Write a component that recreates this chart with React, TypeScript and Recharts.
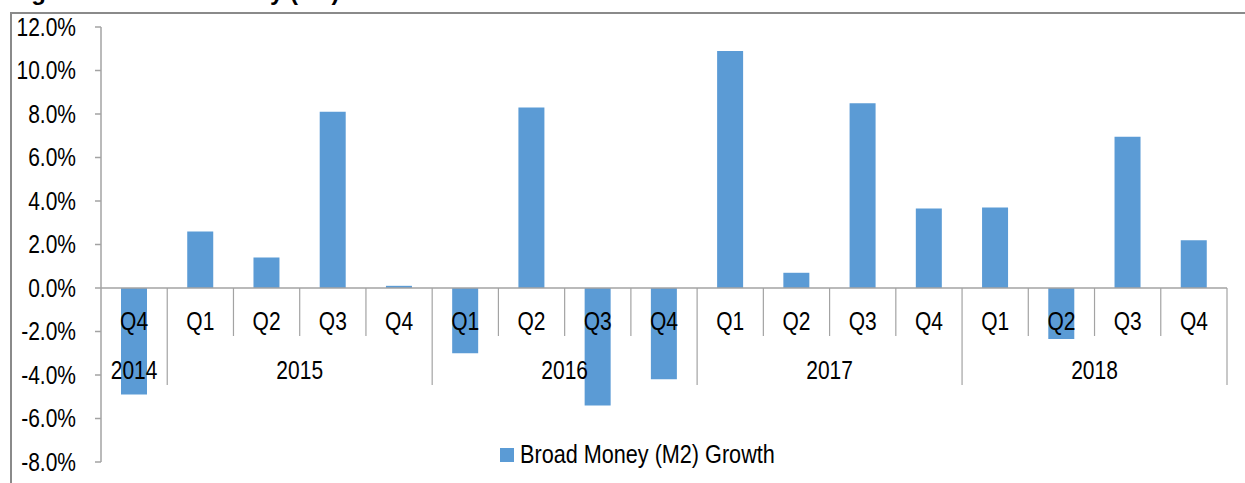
import { BarChart, Bar, XAxis, YAxis, ReferenceLine, Legend } from 'recharts'

const quarters = ['Q4', 'Q1', 'Q2', 'Q3', 'Q4', 'Q1', 'Q2', 'Q3', 'Q4', 'Q1', 'Q2', 'Q3', 'Q4', 'Q1', 'Q2', 'Q3', 'Q4']
const years = ['2014', '2015', '2015', '2015', '2015', '2016', '2016', '2016', '2016', '2017', '2017', '2017', '2017', '2018', '2018', '2018', '2018']
const m2Growth = [-4.9, 2.6, 1.4, 8.1, 0.1, -3.0, 8.3, -5.4, -4.2, 10.9, 0.7, 8.5, 3.65, 3.7, -2.35, 6.95, 2.2]
const yTicks = [-8, -6, -4, -2, 0, 2, 4, 6, 8, 10, 12]

const FONT = "'Liberation Sans', Arial, sans-serif"
const NARROW = 0.84
const AXIS_GRAY = '#a3a3a3'
const BAR_BLUE = '#5B9BD5'

const W = 1245
const H = 483
const M = { top: 27, right: 18, bottom: 20, left: 0 }
const Y_AXIS_W = 101
const X_AXIS_H = 1
const plotTop = M.top
const plotH = H - M.top - M.bottom - X_AXIS_H
const plotW = W - M.left - M.right - Y_AXIS_W
const bandW = plotW / quarters.length
const yMin = yTicks[0]
const yMax = yTicks[yTicks.length - 1]
const zeroY = plotTop + (plotH * yMax) / (yMax - yMin)

const data = quarters.map((q, i) => ({ key: `${years[i]}-${q}`, quarter: q, year: years[i], value: m2Growth[i] }))

// condensed text: the source uses Arial Narrow, which isn't installed here
function NarrowText({ x, y, anchor, dy, children }: any) {
  return (
    <text
      transform={`translate(${x},${y}) scale(${NARROW},1)`}
      textAnchor={anchor}
      dy={dy}
      fill="#000"
      fontSize={25}
      fontFamily={FONT}
    >
      {children}
    </text>
  )
}

function YTick(props: any) {
  const { x, y, payload } = props
  return (
    <NarrowText x={x} y={y} anchor="end" dy="0.355em">
      {`${Number(payload.value).toFixed(1)}%`}
    </NarrowText>
  )
}

function QuarterTick(props: any) {
  const { x, payload } = props
  const i: number = payload.index
  const n = quarters.length
  const firstOfYear = i === 0 || years[i] !== years[i - 1]
  const span = years.filter((y) => y === years[i]).length
  const left = x - bandW / 2
  const right = x + bandW / 2
  return (
    <g>
      {i > 0 && (
        <line x1={left} x2={left} y1={zeroY} y2={firstOfYear ? 385 : 336} stroke={AXIS_GRAY} strokeWidth={1.2} />
      )}
      {i === n - 1 && <line x1={right} x2={right} y1={zeroY} y2={385} stroke={AXIS_GRAY} strokeWidth={1.2} />}
      <NarrowText x={x} y={330} anchor="middle">
        {quarters[i]}
      </NarrowText>
      {firstOfYear && (
        <NarrowText x={left + (span * bandW) / 2} y={379} anchor="middle">
          {years[i]}
        </NarrowText>
      )}
    </g>
  )
}

function LegendContent(props: any) {
  const { payload } = props
  return (
    <div style={{ display: 'flex', alignItems: 'center', fontFamily: FONT, fontSize: 25, color: '#000' }}>
      {(payload || []).map((entry: any) => (
        <span key={entry.value} style={{ display: 'flex', alignItems: 'center' }}>
          <span style={{ width: 14, height: 14, background: entry.color, display: 'inline-block', marginRight: 6 }} />
          <span style={{ display: 'inline-block', transform: 'scaleX(0.865)', transformOrigin: 'left center', whiteSpace: 'nowrap' }}>
            {entry.value}
          </span>
        </span>
      ))}
    </div>
  )
}

export default function App() {
  return (
    <div style={{ position: 'fixed', top: 0, left: 0, width: W, height: H, overflow: 'hidden', background: '#fff' }}>
      <div
        style={{
          position: 'absolute',
          top: -20,
          left: 10,
          fontFamily: FONT,
          fontWeight: 'bold',
          fontSize: 24,
          lineHeight: '24px',
          whiteSpace: 'nowrap',
          color: '#000',
        }}
      >
        Figure 10: Broad Money (M2) Growth
      </div>
      <div
        style={{
          position: 'absolute',
          top: 12,
          left: 10,
          width: W,
          height: H,
          borderTop: '2px solid #8a8a8a',
          borderLeft: '2px solid #8a8a8a',
        }}
      />
      <div style={{ position: 'absolute', top: 0, left: 0 }}>
        <BarChart width={W} height={H} data={data} margin={M} style={{ fontFamily: FONT }}>
          <YAxis
            width={Y_AXIS_W}
            domain={[yMin, yMax]}
            ticks={yTicks}
            interval={0}
            tick={(p: any) => <YTick {...p} />}
            tickSize={6}
            tickMargin={19}
            axisLine={{ stroke: AXIS_GRAY, strokeWidth: 1.5 }}
            tickLine={{ stroke: AXIS_GRAY, strokeWidth: 1.5 }}
          />
          <Bar dataKey="value" name="Broad Money (M2) Growth" fill={BAR_BLUE} barSize={26} isAnimationActive={false} />
          <ReferenceLine y={0} stroke={AXIS_GRAY} strokeWidth={1.5} />
          <XAxis
            dataKey="key"
            height={X_AXIS_H}
            interval={0}
            axisLine={false}
            tickLine={false}
            tick={(p: any) => <QuarterTick {...p} />}
          />
          <Legend
            layout="horizontal"
            verticalAlign="middle"
            align="center"
            content={<LegendContent />}
            wrapperStyle={{ left: 500, top: 440, width: 'auto', bottom: 'auto', right: 'auto' }}
          />
        </BarChart>
      </div>
    </div>
  )
}
